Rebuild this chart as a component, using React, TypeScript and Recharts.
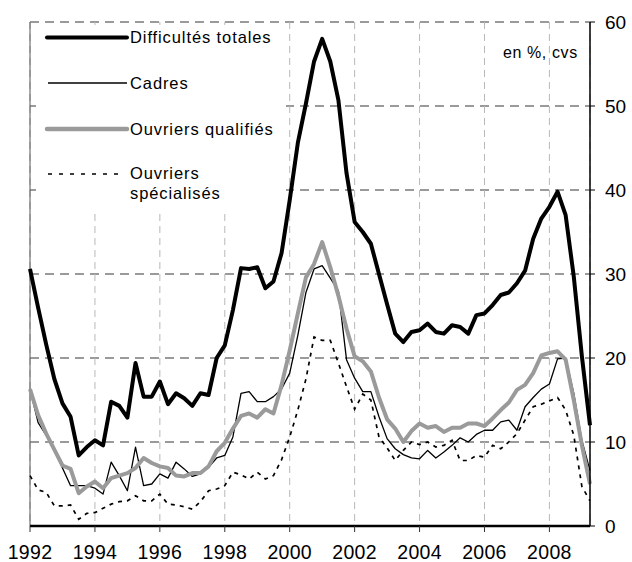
import React from 'react';
import { LineChart, Line, XAxis, YAxis, CartesianGrid, ReferenceLine } from 'recharts';

const yearLabels = [1992, 1994, 1996, 1998, 2000, 2002, 2004, 2006, 2008];
const yTicks = [0, 10, 20, 30, 40, 50, 60];

// Quarterly series, 1992 T1 onwards (70 quarters)
const totales = [
  30.6, 26.0, 21.6, 17.5, 14.6, 13.0, 8.4, 9.4, 10.2, 9.6,
  14.8, 14.3, 12.9, 19.4, 15.4, 15.4, 17.2, 14.5, 15.8, 15.2,
  14.3, 15.8, 15.6, 20.0, 21.5, 25.7, 30.7, 30.6, 30.8, 28.3,
  29.1, 32.5, 38.8, 45.6, 50.3, 55.3, 58.0, 55.3, 50.7, 42.0,
  36.2, 35.0, 33.6, 30.0, 26.4, 22.9, 21.9, 23.1, 23.3, 24.1,
  23.1, 22.9, 23.9, 23.7, 22.9, 25.1, 25.3, 26.3, 27.5, 27.8,
  28.9, 30.4, 34.2, 36.6, 38.0, 39.8, 37.0, 29.7, 20.2, 12.0,
];
const cadres = [
  16.3, 12.3, 10.8, 9.1, 6.9, 4.8, 4.8, 4.8, 4.5, 3.8,
  7.6, 6.0, 4.2, 9.4, 4.8, 5.0, 6.2, 5.7, 7.6, 6.8,
  5.9, 6.2, 7.0, 8.1, 8.4, 10.6, 15.8, 16.0, 14.8, 14.8,
  15.4, 16.3, 18.2, 22.7, 27.8, 30.6, 31.0, 29.5, 28.0, 19.8,
  17.6, 16.0, 16.0, 13.0, 10.4, 9.2, 8.5, 8.1, 8.0, 9.0,
  8.1, 8.8, 9.6, 10.5, 10.0, 10.9, 11.4, 11.4, 12.4, 12.6,
  11.4, 14.2, 15.3, 16.3, 16.9, 19.9, 20.0, 15.8, 10.2, 6.6,
];
const qualifies = [
  16.3, 13.2, 11.0, 9.1, 7.2, 6.8, 3.9, 4.7, 5.3, 4.5,
  5.7, 6.0, 6.3, 6.9, 8.1, 7.5, 7.1, 6.9, 6.0, 5.9,
  6.3, 6.3, 7.1, 8.9, 9.9, 11.6, 13.1, 13.4, 12.9, 13.9,
  13.4, 16.8, 20.9, 25.3, 29.6, 31.2, 33.8, 30.8, 27.4, 23.5,
  20.2, 19.6, 18.4, 15.3, 12.7, 11.6, 10.0, 11.3, 12.2, 11.7,
  11.9, 11.2, 11.7, 11.7, 12.2, 12.2, 11.9, 12.8, 13.8, 14.7,
  16.2, 16.8, 18.2, 20.3, 20.6, 20.8, 19.8, 15.0, 9.6, 5.0,
];
const specialises = [
  6.0, 4.3, 4.0, 2.4, 2.4, 2.5, 0.8, 1.5, 1.6, 2.1,
  2.6, 2.9, 3.0, 3.6, 3.0, 3.0, 3.8, 2.6, 2.5, 2.3,
  2.0, 2.9, 4.2, 4.4, 4.8, 6.4, 6.1, 5.6, 6.4, 5.6,
  6.0, 7.9, 10.6, 13.8, 17.5, 22.5, 22.1, 22.1, 19.4, 16.6,
  13.9, 15.7, 15.0, 10.6, 9.3, 7.8, 9.0, 10.0, 9.7, 10.0,
  9.4, 9.6, 10.2, 7.8, 7.8, 8.4, 8.2, 9.6, 9.2, 10.0,
  11.0, 12.6, 14.2, 14.5, 14.9, 15.3, 13.8, 10.8, 4.7, 3.0,
];

const data = totales.map((v, i) => ({
  idx: i,
  totales: v,
  cadres: cadres[i],
  qualifies: qualifies[i],
  specialises: specialises[i],
}));

// one tick label every 8 quarters
const xTicks = yearLabels.map((_, k) => k * 8);
const yearOfTick = (v: number) => String(yearLabels[Math.round(v / 8)] ?? '');

const FONT = '"Liberation Sans", Arial, sans-serif';
const GRAY = '#9a9a9a';

export default function App() {
  return (
    <div style={{ position: 'absolute', left: 0, top: 0, width: 632, height: 562, background: '#fff', fontFamily: FONT }}>
      <LineChart
        width={632}
        height={562}
        data={data}
        margin={{ top: 22, right: 0, bottom: 0, left: 30 }}
      >
        <CartesianGrid vertical={false} stroke="#7a7a7a" strokeWidth={1.5} strokeDasharray="9 6" />
        <CartesianGrid horizontal={false} stroke="#b8b8b8" strokeWidth={1} strokeDasharray="7 5" />
        <XAxis
          dataKey="idx"
          type="number"
          domain={[0, 69]}
          ticks={xTicks}
          tickFormatter={yearOfTick}
          height={36}
          axisLine={{ stroke: '#000', strokeWidth: 2.5 }}
          tickLine={{ stroke: '#333', strokeWidth: 1 }}
          tickSize={6}
          tickMargin={13}
          tick={{ fill: '#000', fontSize: 19.5, fontFamily: FONT, letterSpacing: 0.3 }}
          interval={0}
        />
        <YAxis
          orientation="right"
          domain={[0, 60]}
          ticks={yTicks}
          width={42}
          axisLine={{ stroke: '#000', strokeWidth: 1.5 }}
          tickLine={{ stroke: '#000', strokeWidth: 1 }}
          tickSize={5}
          tickMargin={10}
          tick={{ fill: '#000', fontSize: 19, fontFamily: FONT }}
          interval={0}
        />
        <ReferenceLine x={0} stroke="#555" strokeWidth={1} />
        <Line dataKey="totales" type="linear" stroke="#000" strokeWidth={4} dot={false} strokeLinejoin="round" isAnimationActive={false} />
        <Line dataKey="cadres" type="linear" stroke="#000" strokeWidth={1.3} dot={false} strokeLinejoin="round" isAnimationActive={false} />
        <Line dataKey="qualifies" type="linear" stroke={GRAY} strokeWidth={4} dot={false} strokeLinejoin="round" isAnimationActive={false} />
        <Line dataKey="specialises" type="linear" stroke="#000" strokeWidth={1.7} strokeDasharray="4 5" dot={false} isAnimationActive={false} />
      </LineChart>
      <svg width={632} height={562} style={{ position: 'absolute', left: 0, top: 0, pointerEvents: 'none' }}>
        <rect x={36} y={25} width={250} height={186} fill="#fff" />
        <g fontFamily={FONT} fontSize={16.5} fill="#000" letterSpacing={0.9}>
          <line x1={47} y1={37.5} x2={127} y2={37.5} stroke="#000" strokeWidth={4} strokeLinecap="round" />
          <text x={130} y={43}>Difficultés totales</text>
          <line x1={48} y1={83} x2={127} y2={83} stroke="#000" strokeWidth={1.3} />
          <text x={130} y={89}>Cadres</text>
          <line x1={47} y1={129} x2={127} y2={129} stroke={GRAY} strokeWidth={4.5} strokeLinecap="round" />
          <text x={130} y={135}>Ouvriers qualifiés</text>
          <line x1={48} y1={174} x2={125} y2={174} stroke="#000" strokeWidth={1.7} strokeDasharray="4 7" />
          <text x={130} y={179}>Ouvriers</text>
          <text x={130} y={199}>spécialisés</text>
        </g>
        <text x={503} y={58} fontFamily={FONT} fontSize={16} letterSpacing={0.6} fill="#000">en %, cvs</text>
      </svg>
    </div>
  );
}
